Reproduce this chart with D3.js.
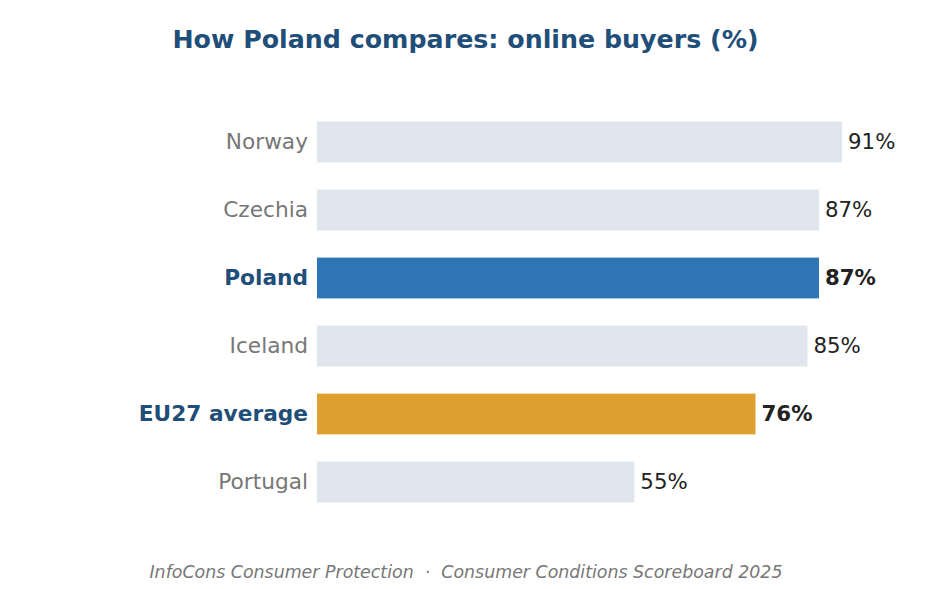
<!doctype html>
<html lang="en">
<head>
<meta charset="UTF-8">
<title>Online buyers</title>
<style>
  body { margin: 0; background: #fff; }
  text { font-family: "DejaVu Sans", sans-serif; }
</style>
</head>
<body>
<script src="https://cdn.jsdelivr.net/npm/d3@7/dist/d3.min.js"></script>
<script>
// data
var countries = ["Norway", "Czechia", "Poland", "Iceland", "EU27 average", "Portugal"];
var values = [91, 87, 87, 85, 76, 55];
var highlight = ["", "", "focus", "", "eu", ""];

var W = 931, H = 589;
var svg = d3.select("body").append("svg").attr("width", W).attr("height", H);

var x = d3.scaleLinear().domain([0, 100]).range([317, 894]);
var y = d3.scaleBand().domain(countries).range([108, 516])
  .paddingInner(0.4).paddingOuter(0.2);

var fillFor = { "": "#e1e6ee", focus: "#2e75b6", eu: "#e0a030" };

svg.append("text")
  .attr("x", W / 2).attr("y", 48)
  .attr("text-anchor", "middle")
  .style("font-size", "25.3px").style("font-weight", "bold")
  .attr("fill", "#1f4e79")
  .text("How Poland compares: online buyers (%)");

var rows = svg.selectAll("g.row")
  .data(countries.map(function (c, i) { return { c: c, v: values[i], h: highlight[i] }; }))
  .enter().append("g").attr("class", "row");

rows.append("rect")
  .attr("x", x(0))
  .attr("y", function (d) { return y(d.c); })
  .attr("width", function (d) { return x(d.v) - x(0); })
  .attr("height", y.bandwidth())
  .attr("fill", function (d) { return fillFor[d.h]; });

// category labels
rows.append("text")
  .attr("x", x(0) - 9)
  .attr("y", function (d) { return y(d.c) + y.bandwidth() / 2; })
  .attr("dy", "0.31em")
  .attr("text-anchor", "end")
  .style("font-size", "21.7px")
  .style("font-weight", function (d) { return d.h ? "bold" : "normal"; })
  .attr("fill", function (d) { return d.h ? "#1f4e79" : "#777777"; })
  .text(function (d) { return d.c; });

// value labels
rows.append("text")
  .attr("x", function (d) { return x(d.v) + 6; })
  .attr("y", function (d) { return y(d.c) + y.bandwidth() / 2; })
  .attr("dy", "0.33em")
  .style("font-size", "21.3px")
  .style("font-weight", function (d) { return d.h ? "bold" : "normal"; })
  .attr("fill", "#222222")
  .text(function (d) { return d.v + "%"; });

svg.append("text")
  .attr("x", W / 2 + 0.5).attr("y", 578)
  .attr("text-anchor", "middle")
  .style("font-size", "17.4px").style("font-style", "italic")
  .attr("fill", "#777777")
  .attr("xml:space", "preserve")
  .text("InfoCons Consumer Protection  \u00b7  Consumer Conditions Scoreboard 2025");
</script>
</body>
</html>
